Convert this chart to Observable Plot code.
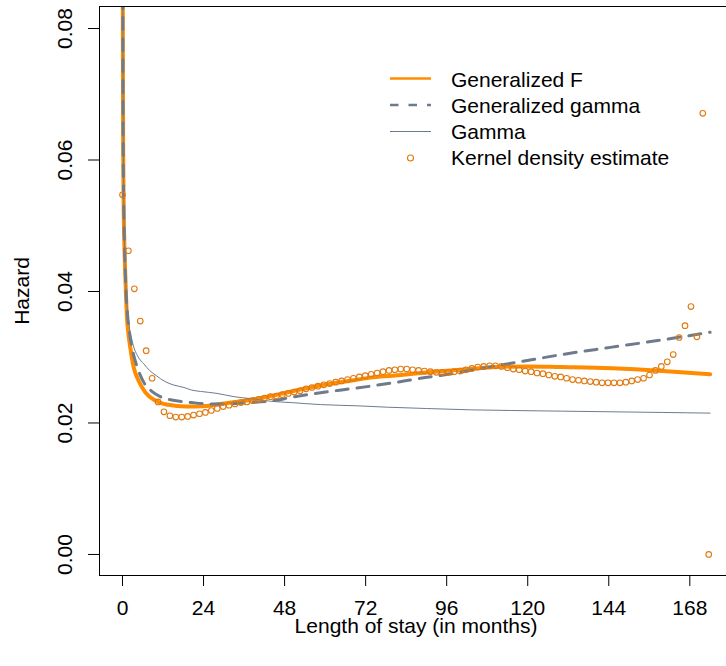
<!DOCTYPE html>
<html>
<head>
<meta charset="utf-8">
<script src="https://cdn.jsdelivr.net/npm/d3@7"></script>
<script src="https://cdn.jsdelivr.net/npm/@observablehq/plot@0.6"></script>
<style>
  html, body { margin: 0; padding: 0; background: white; overflow: hidden; }
</style>
</head>
<body>
<div id="chart"></div>
<script>
// ---- Data ----
const xTicks = [0, 24, 48, 72, 96, 120, 144, 168];
const yTicks = [0.00, 0.02, 0.04, 0.06, 0.08];

// Generalized F hazard
const genF_t = [0.03, 0.1, 0.2, 0.35, 0.6, 0.8, 1.1, 1.3, 1.7, 2.3, 3.3, 4.7, 6.7, 9.7, 13.6, 18.6, 25, 29, 35, 42, 50, 58.6, 66, 73.4, 80, 88.2, 95, 103, 110, 120, 130, 140, 150, 160, 174];
const genF_h = [0.12, 0.080, 0.062, 0.053, 0.0462, 0.0430, 0.0385, 0.0362, 0.0338, 0.0315, 0.0285, 0.0265, 0.0247, 0.0234, 0.02276, 0.02252, 0.0226, 0.0229, 0.0233, 0.0239, 0.0248, 0.0257, 0.0263, 0.0269, 0.0272, 0.0276, 0.0279, 0.0282, 0.0285, 0.0286, 0.0285, 0.0284, 0.0282, 0.0279, 0.0274];

// Generalized gamma hazard
const genG_t = [0.03, 0.1, 0.2, 0.4, 0.6, 1.0, 1.5, 2.2, 3.0, 4.5, 6.5, 8.7, 11.2, 13.6, 17, 20.5, 26, 30, 38, 44.8, 50, 58.6, 66, 73.4, 80, 88.2, 97.6, 102, 113, 122, 130, 144.5, 159.3, 171.6, 174];
const genG_h = [0.12, 0.080, 0.062, 0.052, 0.047, 0.0405, 0.0365, 0.0333, 0.0310, 0.0283, 0.0260, 0.0248, 0.0240, 0.0236, 0.0233, 0.0231, 0.0229, 0.0229, 0.0231, 0.0234, 0.0239, 0.0246, 0.0251, 0.0256, 0.0261, 0.0268, 0.0275, 0.0279, 0.0289, 0.0297, 0.0304, 0.0315, 0.0326, 0.0336, 0.0338];

// Gamma hazard
const gam_t = [0.03, 0.1, 0.2, 0.5, 1.0, 1.8, 3.0, 4.7, 6.3, 8.0, 10, 12.6, 15, 18.2, 20.5, 23.1, 28, 33, 38, 44, 50, 58.6, 70, 78.4, 90, 103, 115, 130, 145, 160, 174];
const gam_h = [0.12, 0.085, 0.066, 0.050, 0.041, 0.0356, 0.0322, 0.0300, 0.0290, 0.0280, 0.0272, 0.0263, 0.0258, 0.0254, 0.0250, 0.0248, 0.0245, 0.0240, 0.0237, 0.0233, 0.0231, 0.0228, 0.0226, 0.0224, 0.0222, 0.0220, 0.0219, 0.0218, 0.0217, 0.0216, 0.0215];

// Kernel density estimate points
const kde_t = [0, 1.75, 3.51, 5.26, 7.01, 8.77, 10.52, 12.27, 14.03, 15.78, 17.54, 19.29, 21.04, 22.80, 24.55, 26.30, 28.06, 29.81, 31.56, 33.32, 35.07, 36.82, 38.58, 40.33, 42.08, 43.84, 45.59, 47.34, 49.10, 50.85, 52.61, 54.36, 56.11, 57.87, 59.62, 61.37, 63.13, 64.88, 66.63, 68.39, 70.14, 71.89, 73.65, 75.40, 77.15, 78.91, 80.66, 82.41, 84.17, 85.92, 87.68, 89.43, 91.18, 92.94, 94.69, 96.44, 98.20, 99.95, 101.70, 103.46, 105.21, 106.96, 108.72, 110.47, 112.22, 113.98, 115.73, 117.48, 119.24, 120.99, 122.75, 124.50, 126.25, 128.01, 129.76, 131.51, 133.27, 135.02, 136.77, 138.53, 140.28, 142.03, 143.79, 145.54, 147.29, 149.05, 150.80, 152.55, 154.31, 156.06, 157.82, 159.57, 161.32, 163.08, 164.83, 166.58, 168.34, 170.09, 171.84, 173.60];
const kde_h = [0.0547, 0.0462, 0.0404, 0.0355, 0.0310, 0.0268, 0.0232, 0.0217, 0.0211, 0.0209, 0.0209, 0.0210, 0.0212, 0.0214, 0.0216, 0.0219, 0.0222, 0.0225, 0.0227, 0.0229, 0.0231, 0.0232, 0.0234, 0.0236, 0.0238, 0.0240, 0.0241, 0.0243, 0.0245, 0.0247, 0.0249, 0.0252, 0.0254, 0.0256, 0.0258, 0.0260, 0.0262, 0.0264, 0.0266, 0.0268, 0.0270, 0.0272, 0.0274, 0.0276, 0.0278, 0.0280, 0.0281, 0.0282, 0.0282, 0.0281, 0.0280, 0.0279, 0.0278, 0.0277, 0.0277, 0.0277, 0.0278, 0.0279, 0.0281, 0.0283, 0.0285, 0.0286, 0.0287, 0.0287, 0.0286, 0.0284, 0.0282, 0.0281, 0.0279, 0.0278, 0.0276, 0.0275, 0.0273, 0.0271, 0.0270, 0.0268, 0.0266, 0.0265, 0.0264, 0.0263, 0.0262, 0.0261, 0.0261, 0.0261, 0.0261, 0.0262, 0.0264, 0.0266, 0.0268, 0.0273, 0.0280, 0.0286, 0.0293, 0.0304, 0.0330, 0.0348, 0.0377, 0.0331, 0.0671, 0.0000];

const seriesNames = ["Generalized F", "Generalized gamma", "Gamma", "Kernel density estimate"];
const xLabel = "Length of stay (in months)";
const yLabel = "Hazard";

// ---- Build tables ----
const toRows = (ts, hs) => ts.map((t, i) => ({t, h: hs[i]}));
const genF = toRows(genF_t, genF_h);
const genG = toRows(genG_t, genG_h);
const gam = toRows(gam_t, gam_h);
const kde = toRows(kde_t, kde_h);

const ORANGE = "#FF8C00";
const DOT = "#E07A10";
const GRAY = "#6E7B8B";
const FONT = "'Liberation Sans', Arial, Helvetica, sans-serif";

const chart = Plot.plot({
  width: 726,
  height: 666,
  marginLeft: 99,
  marginRight: 0,
  marginTop: 6,
  marginBottom: 91,
  style: {fontFamily: FONT, fontSize: "21px", background: "white", color: "black"},
  x: {domain: [-6.81, 178.86]},
  y: {domain: [-0.0032, 0.08335]},
  marks: [
    Plot.line(genF, {x: "t", y: "h", stroke: ORANGE, strokeWidth: 4, curve: "monotone-x", clip: true}),
    Plot.line(genG, {x: "t", y: "h", stroke: GRAY, strokeWidth: 3, strokeDasharray: "12,9", curve: "monotone-x", clip: true}),
    Plot.line(gam, {x: "t", y: "h", stroke: GRAY, strokeWidth: 1, curve: "monotone-x", clip: true}),
    Plot.dot(kde, {x: "t", y: "h", r: 2.8, stroke: DOT, strokeWidth: 1.1, fill: "none", clip: true}),
    Plot.frame({stroke: "black", strokeWidth: 1}),
    Plot.axisX({ticks: xTicks, tickSize: 11, tickPadding: 14, fontSize: 21, label: null, tickFormat: d => String(d)}),
    Plot.axisY({ticks: yTicks, tickSize: 11, tickFormat: () => "", label: null}),
    Plot.text(yTicks, {y: d => d, text: d => d.toFixed(2), frameAnchor: "left", dx: -34, rotate: -90, textAnchor: "middle", lineAnchor: "middle", fontSize: 21}),
    Plot.text([yLabel], {frameAnchor: "left", dx: -77.4, rotate: -90, textAnchor: "middle", lineAnchor: "middle", fontSize: 21})
  ]
});

document.getElementById("chart").appendChild(chart);

const svg = d3.select(chart);

// ---- X axis title ----
svg.append("text")
  .attr("x", 416).attr("y", 633)
  .attr("text-anchor", "middle")
  .attr("font-family", FONT).attr("font-size", 21).attr("fill", "black")
  .text(xLabel);

// ---- Legend (inside plot, top right) ----
const lg = svg.append("g").attr("font-family", FONT).attr("font-size", 21).attr("text-anchor", "start");
const rowsY = [78.5, 105, 131.5, 158];
const baseY = [86.7, 112.8, 139, 165.2];
lg.append("line").attr("x1", 390).attr("x2", 431).attr("y1", rowsY[0]).attr("y2", rowsY[0])
  .attr("stroke", ORANGE).attr("stroke-width", 2.5);
lg.append("line").attr("x1", 390).attr("x2", 431).attr("y1", rowsY[1]).attr("y2", rowsY[1])
  .attr("stroke", GRAY).attr("stroke-width", 2.5).attr("stroke-dasharray", "8.5,10");
lg.append("line").attr("x1", 390).attr("x2", 431).attr("y1", rowsY[2]).attr("y2", rowsY[2])
  .attr("stroke", GRAY).attr("stroke-width", 1);
lg.append("circle").attr("cx", 410.5).attr("cy", rowsY[3]).attr("r", 3)
  .attr("fill", "none").attr("stroke", DOT).attr("stroke-width", 1.1);
seriesNames.forEach((name, i) => {
  lg.append("text").attr("x", 451).attr("y", baseY[i]).attr("text-anchor", "start").attr("fill", "black").text(name);
});
</script>
</body>
</html>
